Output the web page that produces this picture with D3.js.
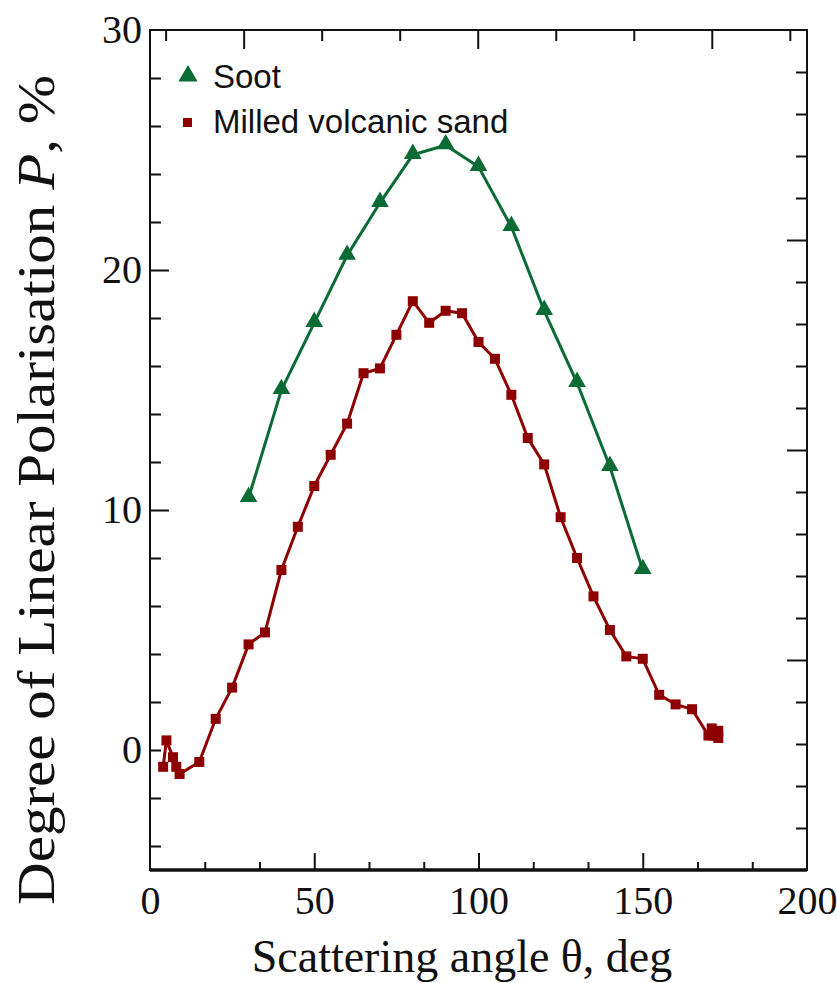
<!DOCTYPE html>
<html>
<head>
<meta charset="utf-8">
<script src="https://cdn.jsdelivr.net/npm/d3@7"></script>
<style>
    body { margin: 0; background: #fff; }
    svg { display: block; }
</style>
</head>
<body>
<svg id="mainSvg" width="837" height="983"></svg>
<script>
// Degree of linear polarisation vs scattering angle

// Soot
let sootAngle = [30, 40, 50, 60, 70, 80, 90, 100, 110, 120, 130, 140, 150];
let sootP = [10.5, 15.0, 17.8, 20.6, 22.8, 24.8, 25.2, 24.3, 21.8, 18.3, 15.3, 11.8, 7.5];

// Milled volcanic sand
let sandAngle = [4, 5, 7, 8, 9, 15, 20, 25, 30, 35, 40, 45, 50, 55, 60, 65, 70, 75, 80, 85, 90, 95, 100,
    105, 110, 115, 120, 125, 130, 135, 140, 145, 150, 155, 160, 165, 170, 171, 172, 173, 173];
let sandP = [-0.7, 0.4, -0.3, -0.7, -1.0, -0.5, 1.3, 2.6, 4.4, 4.9, 7.5, 9.3, 11.0, 12.3, 13.6, 15.7, 15.9,
    17.3, 18.7, 17.8, 18.3, 18.2, 17.0, 16.3, 14.8, 13.0, 11.9, 9.7, 8.0, 6.4, 5.0, 3.9, 3.8, 2.3, 1.9,
    1.7, 0.6, 0.9, 0.6, 0.8, 0.5];

// axis ticks
let xLabels = [0, 50, 100, 150, 200];
let xMajor = [50, 100, 150];
let xMinor = [50 / 3, 100 / 3, 200 / 3, 250 / 3, 350 / 3, 400 / 3, 500 / 3, 550 / 3];
let yLabels = [0, 10, 20, 30];
let yMajor = [10, 20];
let yMinor = [-4, -2, 0, 2, 4, 6, 8, 12, 14, 16, 18, 22, 24, 26, 28];
// the mirrored top / right frame carries its own tick grid
let topTicks = [20, 30, 40, 50, 60, 70, 80, 90, 100];
let topMajor = [30, 60, 90];
let rightTicks = d3.range(1, 20);
let rightMajor = [5, 10, 15];

let seriesNames = ["Soot", "Milled volcanic sand"];
let green = "#0b6b34";
let red = "#8e0000";

let svg = d3.select("#mainSvg");
let pLeft = 150, pRight = 807, pTop = 30, pBottom = 870;

let x = d3.scaleLinear().domain([0, 200]).range([pLeft, pRight]);
let y = d3.scaleLinear().domain([-5, 30]).range([pBottom, pTop]);
let xTop = d3.scaleLinear().domain([18, 102.2]).range([pLeft, pRight]);
let yRight = d3.scaleLinear().domain([0, 20]).range([pBottom, pTop]);

let serif = "'Liberation Serif', 'Times New Roman', serif";
let sans = "'Liberation Sans', Arial, sans-serif";

let styleAxis = function (g) {
    g.select(".domain").remove();
    g.selectAll(".tick line").attr("stroke", "#111").attr("stroke-width", 2);
    g.selectAll("text").attr("font-family", serif).attr("font-size", 40).attr("fill", "#111");
};

// bottom axis
svg.append("g").attr("transform", `translate(0,${pBottom})`)
    .call(d3.axisBottom(x).tickValues(xLabels).tickSize(0).tickPadding(16).tickFormat(d3.format("d")))
    .call(styleAxis);
svg.append("g").attr("transform", `translate(0,${pBottom})`)
    .call(d3.axisBottom(x).tickValues(xMajor).tickSize(-17).tickFormat(""))
    .call(styleAxis);
svg.append("g").attr("transform", `translate(0,${pBottom})`)
    .call(d3.axisBottom(x).tickValues(xMinor).tickSize(-8).tickFormat(""))
    .call(styleAxis);

// left axis
svg.append("g").attr("transform", `translate(${pLeft},0)`)
    .call(d3.axisLeft(y).tickValues(yLabels).tickSize(0).tickPadding(8).tickFormat(d3.format("d")))
    .call(styleAxis);
svg.append("g").attr("transform", `translate(${pLeft},0)`)
    .call(d3.axisLeft(y).tickValues(yMajor).tickSize(-19).tickFormat(""))
    .call(styleAxis);
svg.append("g").attr("transform", `translate(${pLeft},0)`)
    .call(d3.axisLeft(y).tickValues(yMinor).tickSize(-11).tickFormat(""))
    .call(styleAxis);

// top axis
svg.append("g").attr("transform", `translate(0,${pTop})`)
    .call(d3.axisTop(xTop).tickValues(topTicks.filter((d) => !topMajor.includes(d))).tickSize(-11).tickFormat(""))
    .call(styleAxis);
svg.append("g").attr("transform", `translate(0,${pTop})`)
    .call(d3.axisTop(xTop).tickValues(topMajor).tickSize(-19).tickFormat(""))
    .call(styleAxis);

// right axis
svg.append("g").attr("transform", `translate(${pRight},0)`)
    .call(d3.axisRight(yRight).tickValues(rightTicks.filter((d) => !rightMajor.includes(d))).tickSize(-11).tickFormat(""))
    .call(styleAxis);
svg.append("g").attr("transform", `translate(${pRight},0)`)
    .call(d3.axisRight(yRight).tickValues(rightMajor).tickSize(-20).tickFormat(""))
    .call(styleAxis);

// frame
svg.append("rect")
    .attr("x", pLeft).attr("y", pTop)
    .attr("width", pRight - pLeft).attr("height", pBottom - pTop)
    .attr("fill", "none").attr("stroke", "#111").attr("stroke-width", 2);
svg.append("line")
    .attr("x1", pLeft).attr("x2", pRight).attr("y1", pBottom).attr("y2", pBottom)
    .attr("stroke", "#111").attr("stroke-width", 3.5);

// series
let soot = sootAngle.map((a, i) => ({ a: a, p: sootP[i] }));
let sand = sandAngle.map((a, i) => ({ a: a, p: sandP[i] }));

let line = d3.line().x((d) => x(d.a)).y((d) => y(d.p));
let tri = d3.symbol().type(d3.symbolTriangle).size(135);

let gSoot = svg.append("g");
gSoot.append("path").datum(soot).attr("d", line)
    .attr("fill", "none").attr("stroke", green).attr("stroke-width", 3);
gSoot.selectAll("path.m").data(soot).join("path").attr("class", "m")
    .attr("d", tri)
    .attr("transform", (d) => `translate(${x(d.a)},${y(d.p) - 1})`)
    .attr("fill", green);

let gSand = svg.append("g");
gSand.append("path").datum(sand).attr("d", line)
    .attr("fill", "none").attr("stroke", red).attr("stroke-width", 3);
gSand.selectAll("rect").data(sand).join("rect")
    .attr("x", (d) => x(d.a) - 5).attr("y", (d) => y(d.p) - 5)
    .attr("width", 10).attr("height", 10)
    .attr("fill", red);

// legend
let legend = svg.append("g");
legend.append("path").attr("d", d3.symbol().type(d3.symbolTriangle).size(160))
    .attr("transform", "translate(188,76)").attr("fill", green);
legend.append("rect").attr("x", 183).attr("y", 118).attr("width", 9).attr("height", 9).attr("fill", red);
legend.selectAll("text").data(seriesNames).join("text")
    .attr("x", 213).attr("y", (d, i) => 88 + i * 45)
    .attr("font-family", sans).attr("font-size", 33).attr("fill", "#111")
    .text((d) => d);

// axis titles
svg.append("text")
    .attr("x", 462).attr("y", 972)
    .attr("text-anchor", "middle")
    .attr("font-family", serif).attr("font-size", 46).attr("fill", "#111")
    .text("Scattering angle \u03b8, deg");

let yTitle = svg.append("text")
    .attr("transform", "translate(54,490) rotate(-90)")
    .attr("text-anchor", "middle")
    .attr("textLength", 830).attr("lengthAdjust", "spacingAndGlyphs")
    .attr("font-family", serif).attr("font-size", 52).attr("fill", "#111");
yTitle.append("tspan").text("Degree of Linear Polarisation ");
yTitle.append("tspan").attr("font-style", "italic").text("P");
yTitle.append("tspan").text(", %");
</script>
</body>
</html>
